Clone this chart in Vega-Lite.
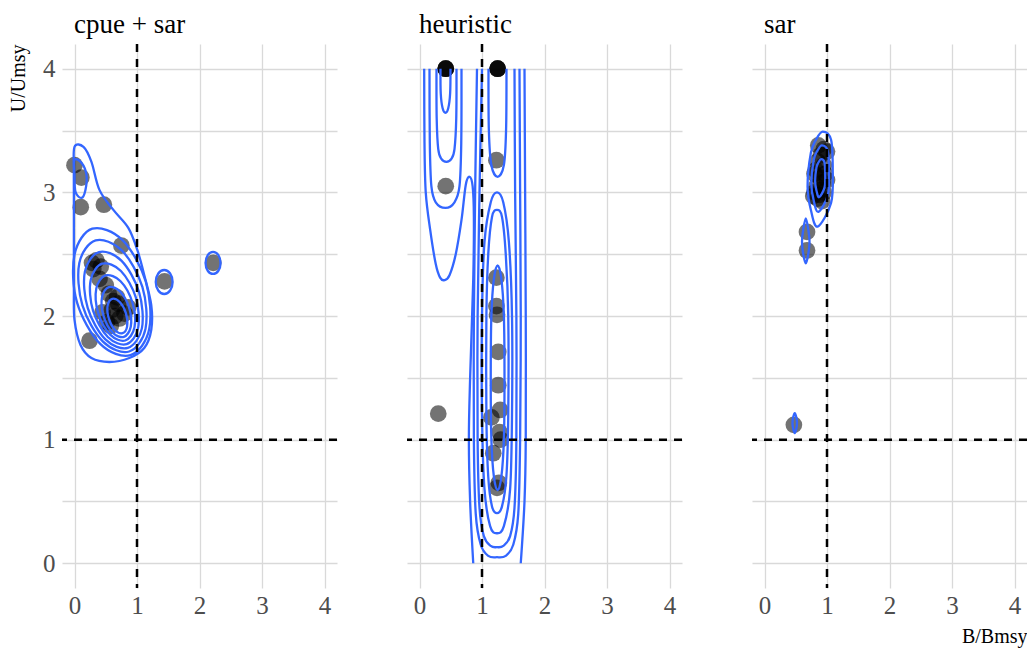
{
  "$schema": "https://vega.github.io/schema/vega-lite/v6.json",
  "background": "white",
  "padding": {"left": 8, "top": 10, "right": 2, "bottom": 5},
  "bounds": "flush",
  "spacing": 70,
  "config": {
    "view": {"stroke": null},
    "axis": {"gridColor": "#d9d9d9", "gridWidth": 1.3, "domain": false, "ticks": false, "labelFont": "Liberation Serif", "labelFontSize": 25, "labelColor": "#4d4d4d", "titleFont": "Liberation Serif", "titleFontSize": 20, "titleFontWeight": "normal", "titleColor": "black"},
    "title": {"font": "Liberation Serif", "fontSize": 27, "fontWeight": "normal", "color": "black"}
  },
  "datasets": {
    "pts": [
      {"p": "cpue + sar", "x": 0.0, "y": 3.22}, {"p": "cpue + sar", "x": 0.11, "y": 3.12}, {"p": "cpue + sar", "x": 0.10, "y": 2.88},
      {"p": "cpue + sar", "x": 0.47, "y": 2.90}, {"p": "cpue + sar", "x": 0.75, "y": 2.57}, {"p": "cpue + sar", "x": 0.28, "y": 2.43},
      {"p": "cpue + sar", "x": 0.35, "y": 2.45}, {"p": "cpue + sar", "x": 0.42, "y": 2.40}, {"p": "cpue + sar", "x": 0.40, "y": 2.30},
      {"p": "cpue + sar", "x": 0.55, "y": 2.18}, {"p": "cpue + sar", "x": 0.62, "y": 2.12}, {"p": "cpue + sar", "x": 0.70, "y": 2.10},
      {"p": "cpue + sar", "x": 0.65, "y": 2.00}, {"p": "cpue + sar", "x": 0.80, "y": 2.02}, {"p": "cpue + sar", "x": 0.45, "y": 2.03},
      {"p": "cpue + sar", "x": 0.58, "y": 1.92}, {"p": "cpue + sar", "x": 0.24, "y": 1.80}, {"p": "cpue + sar", "x": 1.44, "y": 2.28},
      {"p": "cpue + sar", "x": 2.22, "y": 2.43},
      {"p": "cpue + sar", "x": 0.30, "y": 2.38}, {"p": "cpue + sar", "x": 0.50, "y": 2.25}, {"p": "cpue + sar", "x": 0.60, "y": 2.05},
      {"p": "cpue + sar", "x": 0.72, "y": 1.98}, {"p": "cpue + sar", "x": 0.52, "y": 1.95}, {"p": "cpue + sar", "x": 0.68, "y": 2.15},
      {"p": "cpue + sar", "x": 0.86, "y": 2.07},
      {"p": "heuristic", "x": 0.42, "y": 4.0}, {"p": "heuristic", "x": 0.42, "y": 4.0}, {"p": "heuristic", "x": 0.42, "y": 4.0}, {"p": "heuristic", "x": 0.42, "y": 4.0},
      {"p": "heuristic", "x": 1.25, "y": 4.0}, {"p": "heuristic", "x": 1.25, "y": 4.0}, {"p": "heuristic", "x": 1.25, "y": 4.0}, {"p": "heuristic", "x": 1.25, "y": 4.0},
      {"p": "heuristic", "x": 0.42, "y": 3.05}, {"p": "heuristic", "x": 1.23, "y": 3.26}, {"p": "heuristic", "x": 0.30, "y": 1.21},
      {"p": "heuristic", "x": 1.23, "y": 2.31}, {"p": "heuristic", "x": 1.23, "y": 2.08}, {"p": "heuristic", "x": 1.24, "y": 2.01},
      {"p": "heuristic", "x": 1.26, "y": 1.71}, {"p": "heuristic", "x": 1.26, "y": 1.44}, {"p": "heuristic", "x": 1.29, "y": 1.24},
      {"p": "heuristic", "x": 1.15, "y": 1.18}, {"p": "heuristic", "x": 1.28, "y": 1.06}, {"p": "heuristic", "x": 1.30, "y": 1.00},
      {"p": "heuristic", "x": 1.18, "y": 0.89}, {"p": "heuristic", "x": 1.27, "y": 0.65}, {"p": "heuristic", "x": 1.24, "y": 0.61},
      {"p": "sar", "x": 0.95, "y": 3.35}, {"p": "sar", "x": 1.0, "y": 3.33}, {"p": "sar", "x": 0.90, "y": 3.30}, {"p": "sar", "x": 0.85, "y": 3.25},
      {"p": "sar", "x": 0.95, "y": 3.22}, {"p": "sar", "x": 0.80, "y": 3.15}, {"p": "sar", "x": 0.88, "y": 3.12}, {"p": "sar", "x": 0.97, "y": 3.15},
      {"p": "sar", "x": 1.0, "y": 3.10}, {"p": "sar", "x": 0.83, "y": 3.05}, {"p": "sar", "x": 0.90, "y": 3.02}, {"p": "sar", "x": 0.95, "y": 3.00},
      {"p": "sar", "x": 0.78, "y": 2.97}, {"p": "sar", "x": 0.85, "y": 2.95}, {"p": "sar", "x": 0.92, "y": 2.93}, {"p": "sar", "x": 0.88, "y": 2.98},
      {"p": "sar", "x": 0.82, "y": 3.18}, {"p": "sar", "x": 0.93, "y": 3.08}, {"p": "sar", "x": 0.86, "y": 3.38}, {"p": "sar", "x": 0.80, "y": 3.00},
      {"p": "sar", "x": 0.68, "y": 2.68}, {"p": "sar", "x": 0.68, "y": 2.53}, {"p": "sar", "x": 0.47, "y": 1.12}
    ],
    "loops": [
      {"p": "cpue + sar", "g": "o", "i": 0, "x": 0.0, "y": 3.368}, {"p": "cpue + sar", "g": "o", "i": 1, "x": 0.144, "y": 3.368},
      {"p": "cpue + sar", "g": "o", "i": 2, "x": 0.271, "y": 3.247}, {"p": "cpue + sar", "g": "o", "i": 3, "x": 0.399, "y": 3.020},
      {"p": "cpue + sar", "g": "o", "i": 4, "x": 0.622, "y": 2.858}, {"p": "cpue + sar", "g": "o", "i": 5, "x": 0.861, "y": 2.713},
      {"p": "cpue + sar", "g": "o", "i": 6, "x": 1.005, "y": 2.534}, {"p": "cpue + sar", "g": "o", "i": 7, "x": 1.116, "y": 2.332},
      {"p": "cpue + sar", "g": "o", "i": 8, "x": 1.228, "y": 2.089}, {"p": "cpue + sar", "g": "o", "i": 9, "x": 1.228, "y": 1.887},
      {"p": "cpue + sar", "g": "o", "i": 10, "x": 1.116, "y": 1.741}, {"p": "cpue + sar", "g": "o", "i": 11, "x": 0.877, "y": 1.660},
      {"p": "cpue + sar", "g": "o", "i": 12, "x": 0.558, "y": 1.628}, {"p": "cpue + sar", "g": "o", "i": 13, "x": 0.271, "y": 1.660},
      {"p": "cpue + sar", "g": "o", "i": 14, "x": 0.096, "y": 1.765}, {"p": "cpue + sar", "g": "o", "i": 15, "x": 0.0, "y": 1.968},
      {"p": "cpue + sar", "g": "o", "i": 16, "x": -0.01, "y": 2.211}, {"p": "cpue + sar", "g": "o", "i": 17, "x": -0.01, "y": 2.453},
      {"p": "cpue + sar", "g": "o", "i": 18, "x": -0.01, "y": 2.696}, {"p": "cpue + sar", "g": "o", "i": 19, "x": -0.01, "y": 2.939},
      {"p": "cpue + sar", "g": "o", "i": 20, "x": -0.01, "y": 3.182},
      {"p": "cpue + sar", "g": "t", "i": 0, "x": 0.0, "y": 3.263}, {"p": "cpue + sar", "g": "t", "i": 1, "x": 0.112, "y": 3.239},
      {"p": "cpue + sar", "g": "t", "i": 2, "x": 0.191, "y": 3.142}, {"p": "cpue + sar", "g": "t", "i": 3, "x": 0.175, "y": 3.020},
      {"p": "cpue + sar", "g": "t", "i": 4, "x": 0.112, "y": 2.955}, {"p": "cpue + sar", "g": "t", "i": 5, "x": 0.016, "y": 3.004},
      {"p": "cpue + sar", "g": "t", "i": 6, "x": 0.0, "y": 3.142},
      {"p": "cpue + sar", "g": "k0", "i": 0, "x": 0.895, "y": 1.683}, {"p": "cpue + sar", "g": "k0", "i": 1, "x": 1.195, "y": 1.892},
      {"p": "cpue + sar", "g": "k0", "i": 2, "x": 1.140, "y": 2.279}, {"p": "cpue + sar", "g": "k0", "i": 3, "x": 0.764, "y": 2.616},
      {"p": "cpue + sar", "g": "k0", "i": 4, "x": 0.285, "y": 2.706}, {"p": "cpue + sar", "g": "k0", "i": 5, "x": 0.0, "y": 2.496},
      {"p": "cpue + sar", "g": "k0", "i": 6, "x": 0.040, "y": 2.110}, {"p": "cpue + sar", "g": "k0", "i": 7, "x": 0.416, "y": 1.772},
      {"p": "cpue + sar", "g": "k1", "i": 0, "x": 0.874, "y": 1.713}, {"p": "cpue + sar", "g": "k1", "i": 1, "x": 1.136, "y": 1.896},
      {"p": "cpue + sar", "g": "k1", "i": 2, "x": 1.086, "y": 2.236}, {"p": "cpue + sar", "g": "k1", "i": 3, "x": 0.756, "y": 2.531},
      {"p": "cpue + sar", "g": "k1", "i": 4, "x": 0.338, "y": 2.611}, {"p": "cpue + sar", "g": "k1", "i": 5, "x": 0.077, "y": 2.428},
      {"p": "cpue + sar", "g": "k1", "i": 6, "x": 0.126, "y": 2.088}, {"p": "cpue + sar", "g": "k1", "i": 7, "x": 0.456, "y": 1.793},
      {"p": "cpue + sar", "g": "k2", "i": 0, "x": 0.853, "y": 1.742}, {"p": "cpue + sar", "g": "k2", "i": 1, "x": 1.078, "y": 1.900},
      {"p": "cpue + sar", "g": "k2", "i": 2, "x": 1.033, "y": 2.193}, {"p": "cpue + sar", "g": "k2", "i": 3, "x": 0.750, "y": 2.448},
      {"p": "cpue + sar", "g": "k2", "i": 4, "x": 0.391, "y": 2.517}, {"p": "cpue + sar", "g": "k2", "i": 5, "x": 0.166, "y": 2.359},
      {"p": "cpue + sar", "g": "k2", "i": 6, "x": 0.211, "y": 2.066}, {"p": "cpue + sar", "g": "k2", "i": 7, "x": 0.494, "y": 1.811},
      {"p": "cpue + sar", "g": "k3", "i": 0, "x": 0.833, "y": 1.772}, {"p": "cpue + sar", "g": "k3", "i": 1, "x": 1.018, "y": 1.904},
      {"p": "cpue + sar", "g": "k3", "i": 2, "x": 0.981, "y": 2.150}, {"p": "cpue + sar", "g": "k3", "i": 3, "x": 0.743, "y": 2.364},
      {"p": "cpue + sar", "g": "k3", "i": 4, "x": 0.443, "y": 2.423}, {"p": "cpue + sar", "g": "k3", "i": 5, "x": 0.258, "y": 2.290},
      {"p": "cpue + sar", "g": "k3", "i": 6, "x": 0.295, "y": 2.045}, {"p": "cpue + sar", "g": "k3", "i": 7, "x": 0.533, "y": 1.830},
      {"p": "cpue + sar", "g": "k4", "i": 0, "x": 0.812, "y": 1.802}, {"p": "cpue + sar", "g": "k4", "i": 1, "x": 0.960, "y": 1.909},
      {"p": "cpue + sar", "g": "k4", "i": 2, "x": 0.928, "y": 2.107}, {"p": "cpue + sar", "g": "k4", "i": 3, "x": 0.737, "y": 2.281},
      {"p": "cpue + sar", "g": "k4", "i": 4, "x": 0.496, "y": 2.328}, {"p": "cpue + sar", "g": "k4", "i": 5, "x": 0.348, "y": 2.221},
      {"p": "cpue + sar", "g": "k4", "i": 6, "x": 0.380, "y": 2.023}, {"p": "cpue + sar", "g": "k4", "i": 7, "x": 0.571, "y": 1.849},
      {"p": "cpue + sar", "g": "k5", "i": 0, "x": 0.789, "y": 1.831}, {"p": "cpue + sar", "g": "k5", "i": 1, "x": 0.900, "y": 1.913},
      {"p": "cpue + sar", "g": "k5", "i": 2, "x": 0.876, "y": 2.064}, {"p": "cpue + sar", "g": "k5", "i": 3, "x": 0.730, "y": 2.198},
      {"p": "cpue + sar", "g": "k5", "i": 4, "x": 0.550, "y": 2.234}, {"p": "cpue + sar", "g": "k5", "i": 5, "x": 0.440, "y": 2.152},
      {"p": "cpue + sar", "g": "k5", "i": 6, "x": 0.464, "y": 2.001}, {"p": "cpue + sar", "g": "k5", "i": 7, "x": 0.609, "y": 1.867},
      {"p": "cpue + sar", "g": "k6", "i": 0, "x": 0.769, "y": 1.861}, {"p": "cpue + sar", "g": "k6", "i": 1, "x": 0.842, "y": 1.916},
      {"p": "cpue + sar", "g": "k6", "i": 2, "x": 0.823, "y": 2.021}, {"p": "cpue + sar", "g": "k6", "i": 3, "x": 0.724, "y": 2.113},
      {"p": "cpue + sar", "g": "k6", "i": 4, "x": 0.603, "y": 2.139}, {"p": "cpue + sar", "g": "k6", "i": 5, "x": 0.530, "y": 2.084},
      {"p": "cpue + sar", "g": "k6", "i": 6, "x": 0.549, "y": 1.979}, {"p": "cpue + sar", "g": "k6", "i": 7, "x": 0.648, "y": 1.887},
      {"p": "cpue + sar", "g": "e1", "i": 0, "x": 1.57, "y": 2.275}, {"p": "cpue + sar", "g": "e1", "i": 1, "x": 1.53, "y": 2.344},
      {"p": "cpue + sar", "g": "e1", "i": 2, "x": 1.435, "y": 2.372}, {"p": "cpue + sar", "g": "e1", "i": 3, "x": 1.34, "y": 2.344},
      {"p": "cpue + sar", "g": "e1", "i": 4, "x": 1.30, "y": 2.275}, {"p": "cpue + sar", "g": "e1", "i": 5, "x": 1.34, "y": 2.206},
      {"p": "cpue + sar", "g": "e1", "i": 6, "x": 1.435, "y": 2.178}, {"p": "cpue + sar", "g": "e1", "i": 7, "x": 1.53, "y": 2.206},
      {"p": "cpue + sar", "g": "e2", "i": 0, "x": 2.337, "y": 2.429}, {"p": "cpue + sar", "g": "e2", "i": 1, "x": 2.302, "y": 2.492},
      {"p": "cpue + sar", "g": "e2", "i": 2, "x": 2.217, "y": 2.518}, {"p": "cpue + sar", "g": "e2", "i": 3, "x": 2.132, "y": 2.492},
      {"p": "cpue + sar", "g": "e2", "i": 4, "x": 2.097, "y": 2.429}, {"p": "cpue + sar", "g": "e2", "i": 5, "x": 2.132, "y": 2.366},
      {"p": "cpue + sar", "g": "e2", "i": 6, "x": 2.217, "y": 2.340}, {"p": "cpue + sar", "g": "e2", "i": 7, "x": 2.302, "y": 2.366},
      {"p": "heuristic", "g": "c2", "i": 0, "x": 1.24, "y": 3.00}, {"p": "heuristic", "g": "c2", "i": 1, "x": 1.34, "y": 2.92},
      {"p": "heuristic", "g": "c2", "i": 2, "x": 1.43, "y": 2.6}, {"p": "heuristic", "g": "c2", "i": 3, "x": 1.48, "y": 2.0},
      {"p": "heuristic", "g": "c2", "i": 4, "x": 1.48, "y": 1.2}, {"p": "heuristic", "g": "c2", "i": 5, "x": 1.45, "y": 0.6},
      {"p": "heuristic", "g": "c2", "i": 6, "x": 1.35, "y": 0.30}, {"p": "heuristic", "g": "c2", "i": 7, "x": 1.24, "y": 0.243},
      {"p": "heuristic", "g": "c2", "i": 8, "x": 1.13, "y": 0.30}, {"p": "heuristic", "g": "c2", "i": 9, "x": 1.04, "y": 0.6},
      {"p": "heuristic", "g": "c2", "i": 10, "x": 1.0, "y": 1.2}, {"p": "heuristic", "g": "c2", "i": 11, "x": 1.0, "y": 2.0},
      {"p": "heuristic", "g": "c2", "i": 12, "x": 1.04, "y": 2.6}, {"p": "heuristic", "g": "c2", "i": 13, "x": 1.14, "y": 2.92},
      {"p": "heuristic", "g": "c1", "i": 0, "x": 1.24, "y": 2.858}, {"p": "heuristic", "g": "c1", "i": 1, "x": 1.32, "y": 2.80},
      {"p": "heuristic", "g": "c1", "i": 2, "x": 1.38, "y": 2.5}, {"p": "heuristic", "g": "c1", "i": 3, "x": 1.42, "y": 2.0},
      {"p": "heuristic", "g": "c1", "i": 4, "x": 1.42, "y": 1.2}, {"p": "heuristic", "g": "c1", "i": 5, "x": 1.39, "y": 0.7},
      {"p": "heuristic", "g": "c1", "i": 6, "x": 1.32, "y": 0.46}, {"p": "heuristic", "g": "c1", "i": 7, "x": 1.24, "y": 0.405},
      {"p": "heuristic", "g": "c1", "i": 8, "x": 1.16, "y": 0.46}, {"p": "heuristic", "g": "c1", "i": 9, "x": 1.10, "y": 0.7},
      {"p": "heuristic", "g": "c1", "i": 10, "x": 1.07, "y": 1.2}, {"p": "heuristic", "g": "c1", "i": 11, "x": 1.07, "y": 2.0},
      {"p": "heuristic", "g": "c1", "i": 12, "x": 1.10, "y": 2.5}, {"p": "heuristic", "g": "c1", "i": 13, "x": 1.16, "y": 2.80},
      {"p": "heuristic", "g": "c0", "i": 0, "x": 1.25, "y": 2.41}, {"p": "heuristic", "g": "c0", "i": 1, "x": 1.31, "y": 2.30},
      {"p": "heuristic", "g": "c0", "i": 2, "x": 1.35, "y": 2.0}, {"p": "heuristic", "g": "c0", "i": 3, "x": 1.36, "y": 1.5},
      {"p": "heuristic", "g": "c0", "i": 4, "x": 1.35, "y": 1.0}, {"p": "heuristic", "g": "c0", "i": 5, "x": 1.31, "y": 0.7},
      {"p": "heuristic", "g": "c0", "i": 6, "x": 1.25, "y": 0.59}, {"p": "heuristic", "g": "c0", "i": 7, "x": 1.19, "y": 0.7},
      {"p": "heuristic", "g": "c0", "i": 8, "x": 1.15, "y": 1.0}, {"p": "heuristic", "g": "c0", "i": 9, "x": 1.14, "y": 1.5},
      {"p": "heuristic", "g": "c0", "i": 10, "x": 1.15, "y": 2.0}, {"p": "heuristic", "g": "c0", "i": 11, "x": 1.19, "y": 2.30},
      {"p": "sar", "g": "s1", "i": 0, "x": 0.931, "y": 3.492}, {"p": "sar", "g": "s1", "i": 1, "x": 1.065, "y": 3.425},
      {"p": "sar", "g": "s1", "i": 2, "x": 1.092, "y": 3.166}, {"p": "sar", "g": "s1", "i": 3, "x": 1.065, "y": 2.915},
      {"p": "sar", "g": "s1", "i": 4, "x": 0.85, "y": 2.723}, {"p": "sar", "g": "s1", "i": 5, "x": 0.742, "y": 2.858},
      {"p": "sar", "g": "s1", "i": 6, "x": 0.689, "y": 3.047}, {"p": "sar", "g": "s1", "i": 7, "x": 0.742, "y": 3.32},
      {"p": "sar", "g": "s1", "i": 8, "x": 0.823, "y": 3.425},
      {"p": "sar", "g": "s1b", "i": 0, "x": 0.919, "y": 3.380}, {"p": "sar", "g": "s1b", "i": 1, "x": 1.013, "y": 3.334},
      {"p": "sar", "g": "s1b", "i": 2, "x": 1.031, "y": 3.152}, {"p": "sar", "g": "s1b", "i": 3, "x": 1.013, "y": 2.977},
      {"p": "sar", "g": "s1b", "i": 4, "x": 0.862, "y": 2.842}, {"p": "sar", "g": "s1b", "i": 5, "x": 0.786, "y": 2.937},
      {"p": "sar", "g": "s1b", "i": 6, "x": 0.749, "y": 3.069}, {"p": "sar", "g": "s1b", "i": 7, "x": 0.786, "y": 3.260},
      {"p": "sar", "g": "s1b", "i": 8, "x": 0.843, "y": 3.334},
      {"p": "sar", "g": "s1c", "i": 0, "x": 0.906, "y": 3.269}, {"p": "sar", "g": "s1c", "i": 1, "x": 0.960, "y": 3.242},
      {"p": "sar", "g": "s1c", "i": 2, "x": 0.971, "y": 3.138}, {"p": "sar", "g": "s1c", "i": 3, "x": 0.960, "y": 3.038},
      {"p": "sar", "g": "s1c", "i": 4, "x": 0.874, "y": 2.961}, {"p": "sar", "g": "s1c", "i": 5, "x": 0.831, "y": 3.015},
      {"p": "sar", "g": "s1c", "i": 6, "x": 0.810, "y": 3.091}, {"p": "sar", "g": "s1c", "i": 7, "x": 0.831, "y": 3.200},
      {"p": "sar", "g": "s1c", "i": 8, "x": 0.863, "y": 3.242},
      {"p": "sar", "g": "s2", "i": 0, "x": 0.661, "y": 2.79}, {"p": "sar", "g": "s2", "i": 1, "x": 0.70, "y": 2.70},
      {"p": "sar", "g": "s2", "i": 2, "x": 0.72, "y": 2.60}, {"p": "sar", "g": "s2", "i": 3, "x": 0.70, "y": 2.50},
      {"p": "sar", "g": "s2", "i": 4, "x": 0.661, "y": 2.426}, {"p": "sar", "g": "s2", "i": 5, "x": 0.62, "y": 2.50},
      {"p": "sar", "g": "s2", "i": 6, "x": 0.60, "y": 2.60}, {"p": "sar", "g": "s2", "i": 7, "x": 0.62, "y": 2.70},
      {"p": "sar", "g": "s3", "i": 0, "x": 0.484, "y": 1.215}, {"p": "sar", "g": "s3", "i": 1, "x": 0.51, "y": 1.18},
      {"p": "sar", "g": "s3", "i": 2, "x": 0.52, "y": 1.134}, {"p": "sar", "g": "s3", "i": 3, "x": 0.51, "y": 1.09},
      {"p": "sar", "g": "s3", "i": 4, "x": 0.484, "y": 1.053}, {"p": "sar", "g": "s3", "i": 5, "x": 0.458, "y": 1.09},
      {"p": "sar", "g": "s3", "i": 6, "x": 0.448, "y": 1.134}, {"p": "sar", "g": "s3", "i": 7, "x": 0.458, "y": 1.18}
    ],
    "curves": [
      {"p": "heuristic", "g": "l1", "i": 0, "x": 0.336, "y": 4.0}, {"p": "heuristic", "g": "l1", "i": 1, "x": 0.34, "y": 3.80},
      {"p": "heuristic", "g": "l1", "i": 2, "x": 0.37, "y": 3.68}, {"p": "heuristic", "g": "l1", "i": 3, "x": 0.416, "y": 3.644},
      {"p": "heuristic", "g": "l1", "i": 4, "x": 0.46, "y": 3.68}, {"p": "heuristic", "g": "l1", "i": 5, "x": 0.49, "y": 3.80},
      {"p": "heuristic", "g": "l1", "i": 6, "x": 0.496, "y": 4.0},
      {"p": "heuristic", "g": "l2", "i": 0, "x": 0.272, "y": 4.0}, {"p": "heuristic", "g": "l2", "i": 1, "x": 0.275, "y": 3.6},
      {"p": "heuristic", "g": "l2", "i": 2, "x": 0.30, "y": 3.35}, {"p": "heuristic", "g": "l2", "i": 3, "x": 0.35, "y": 3.27},
      {"p": "heuristic", "g": "l2", "i": 4, "x": 0.43, "y": 3.247}, {"p": "heuristic", "g": "l2", "i": 5, "x": 0.51, "y": 3.27},
      {"p": "heuristic", "g": "l2", "i": 6, "x": 0.56, "y": 3.35}, {"p": "heuristic", "g": "l2", "i": 7, "x": 0.588, "y": 3.6},
      {"p": "heuristic", "g": "l2", "i": 8, "x": 0.592, "y": 4.0},
      {"p": "heuristic", "g": "l3", "i": 0, "x": 0.16, "y": 4.0}, {"p": "heuristic", "g": "l3", "i": 1, "x": 0.165, "y": 3.4},
      {"p": "heuristic", "g": "l3", "i": 2, "x": 0.19, "y": 3.05}, {"p": "heuristic", "g": "l3", "i": 3, "x": 0.26, "y": 2.92},
      {"p": "heuristic", "g": "l3", "i": 4, "x": 0.416, "y": 2.874}, {"p": "heuristic", "g": "l3", "i": 5, "x": 0.56, "y": 2.92},
      {"p": "heuristic", "g": "l3", "i": 6, "x": 0.64, "y": 3.05}, {"p": "heuristic", "g": "l3", "i": 7, "x": 0.668, "y": 3.4},
      {"p": "heuristic", "g": "l3", "i": 8, "x": 0.672, "y": 4.0},
      {"p": "heuristic", "g": "wl", "i": 0, "x": 0.075, "y": 4.0}, {"p": "heuristic", "g": "wl", "i": 1, "x": 0.08, "y": 3.4},
      {"p": "heuristic", "g": "wl", "i": 2, "x": 0.10, "y": 3.0}, {"p": "heuristic", "g": "wl", "i": 3, "x": 0.17, "y": 2.70},
      {"p": "heuristic", "g": "wl", "i": 4, "x": 0.26, "y": 2.42}, {"p": "heuristic", "g": "wl", "i": 5, "x": 0.33, "y": 2.31},
      {"p": "heuristic", "g": "wl", "i": 6, "x": 0.40, "y": 2.29}, {"p": "heuristic", "g": "wl", "i": 7, "x": 0.48, "y": 2.33},
      {"p": "heuristic", "g": "wl", "i": 8, "x": 0.58, "y": 2.5}, {"p": "heuristic", "g": "wl", "i": 9, "x": 0.672, "y": 2.777},
      {"p": "heuristic", "g": "wl", "i": 10, "x": 0.74, "y": 3.06}, {"p": "heuristic", "g": "wl", "i": 11, "x": 0.80, "y": 3.126},
      {"p": "heuristic", "g": "wl", "i": 12, "x": 0.85, "y": 3.05}, {"p": "heuristic", "g": "wl", "i": 13, "x": 0.87, "y": 2.80},
      {"p": "heuristic", "g": "wl", "i": 14, "x": 0.86, "y": 2.3}, {"p": "heuristic", "g": "wl", "i": 15, "x": 0.81, "y": 1.5},
      {"p": "heuristic", "g": "wl", "i": 16, "x": 0.79, "y": 1.0}, {"p": "heuristic", "g": "wl", "i": 17, "x": 0.81, "y": 0.5},
      {"p": "heuristic", "g": "wl", "i": 18, "x": 0.86, "y": 0.0},
      {"p": "heuristic", "g": "wr", "i": 0, "x": 1.68, "y": 4.0}, {"p": "heuristic", "g": "wr", "i": 1, "x": 1.69, "y": 3.0},
      {"p": "heuristic", "g": "wr", "i": 2, "x": 1.70, "y": 2.0}, {"p": "heuristic", "g": "wr", "i": 3, "x": 1.70, "y": 1.0},
      {"p": "heuristic", "g": "wr", "i": 4, "x": 1.68, "y": 0.5}, {"p": "heuristic", "g": "wr", "i": 5, "x": 1.62, "y": 0.0},
      {"p": "heuristic", "g": "u3", "i": 0, "x": 0.92, "y": 4.0}, {"p": "heuristic", "g": "u3", "i": 1, "x": 0.89, "y": 3.0},
      {"p": "heuristic", "g": "u3", "i": 2, "x": 0.87, "y": 2.0}, {"p": "heuristic", "g": "u3", "i": 3, "x": 0.87, "y": 1.0},
      {"p": "heuristic", "g": "u3", "i": 4, "x": 0.90, "y": 0.4}, {"p": "heuristic", "g": "u3", "i": 5, "x": 0.98, "y": 0.15},
      {"p": "heuristic", "g": "u3", "i": 6, "x": 1.10, "y": 0.06}, {"p": "heuristic", "g": "u3", "i": 7, "x": 1.24, "y": 0.049},
      {"p": "heuristic", "g": "u3", "i": 8, "x": 1.38, "y": 0.06}, {"p": "heuristic", "g": "u3", "i": 9, "x": 1.50, "y": 0.15},
      {"p": "heuristic", "g": "u3", "i": 10, "x": 1.58, "y": 0.4}, {"p": "heuristic", "g": "u3", "i": 11, "x": 1.61, "y": 1.0},
      {"p": "heuristic", "g": "u3", "i": 12, "x": 1.62, "y": 2.0}, {"p": "heuristic", "g": "u3", "i": 13, "x": 1.61, "y": 3.0},
      {"p": "heuristic", "g": "u3", "i": 14, "x": 1.60, "y": 4.0},
      {"p": "heuristic", "g": "u2", "i": 0, "x": 1.0, "y": 4.0}, {"p": "heuristic", "g": "u2", "i": 1, "x": 0.96, "y": 3.0},
      {"p": "heuristic", "g": "u2", "i": 2, "x": 0.93, "y": 2.0}, {"p": "heuristic", "g": "u2", "i": 3, "x": 0.93, "y": 1.0},
      {"p": "heuristic", "g": "u2", "i": 4, "x": 0.96, "y": 0.45}, {"p": "heuristic", "g": "u2", "i": 5, "x": 1.03, "y": 0.22},
      {"p": "heuristic", "g": "u2", "i": 6, "x": 1.14, "y": 0.14}, {"p": "heuristic", "g": "u2", "i": 7, "x": 1.24, "y": 0.13},
      {"p": "heuristic", "g": "u2", "i": 8, "x": 1.34, "y": 0.14}, {"p": "heuristic", "g": "u2", "i": 9, "x": 1.45, "y": 0.22},
      {"p": "heuristic", "g": "u2", "i": 10, "x": 1.52, "y": 0.45}, {"p": "heuristic", "g": "u2", "i": 11, "x": 1.55, "y": 1.0},
      {"p": "heuristic", "g": "u2", "i": 12, "x": 1.55, "y": 2.0}, {"p": "heuristic", "g": "u2", "i": 13, "x": 1.53, "y": 3.0},
      {"p": "heuristic", "g": "u2", "i": 14, "x": 1.52, "y": 4.0},
      {"p": "heuristic", "g": "u1", "i": 0, "x": 1.104, "y": 4.0}, {"p": "heuristic", "g": "u1", "i": 1, "x": 1.11, "y": 3.5},
      {"p": "heuristic", "g": "u1", "i": 2, "x": 1.15, "y": 3.22}, {"p": "heuristic", "g": "u1", "i": 3, "x": 1.25, "y": 3.126},
      {"p": "heuristic", "g": "u1", "i": 4, "x": 1.35, "y": 3.22}, {"p": "heuristic", "g": "u1", "i": 5, "x": 1.385, "y": 3.5},
      {"p": "heuristic", "g": "u1", "i": 6, "x": 1.392, "y": 4.0}
    ]
  },
  "hconcat": [
    {
      "width": 275, "height": 544,
      "title": {"text": "cpue + sar", "anchor": "start", "frame": "group", "dx": 12, "offset": 4},
      "layer": [
        {"data": {"name": "pts"}, "transform": [{"filter": "datum.p === 'cpue + sar'"}],
         "mark": {"type": "circle", "size": 280, "color": "black", "opacity": 0.55},
         "encoding": {
           "x": {"field": "x", "type": "quantitative", "scale": {"domain": [-0.2, 4.2], "nice": false, "zero": false},
                 "axis": {"values": [0, 0.5, 1, 1.5, 2, 2.5, 3, 3.5, 4], "labelExpr": "datum.value % 1 === 0 ? format(datum.value, 'd') : ''", "title": null, "labelOverlap": false, "labelPadding": 5}},
           "y": {"field": "y", "type": "quantitative", "scale": {"domain": [-0.2, 4.2], "nice": false, "zero": false},
                 "axis": {"values": [0, 0.5, 1, 1.5, 2, 2.5, 3, 3.5, 4], "labelExpr": "datum.value % 1 === 0 ? format(datum.value, 'd') : ''", "title": "U/Umsy", "titleAnchor": "end", "titlePadding": 14, "labelPadding": 7, "labelOverlap": false}}
         }},
        {"data": {"name": "loops"}, "transform": [{"filter": "datum.p === 'cpue + sar'"}],
         "mark": {"type": "line", "interpolate": "cardinal-closed", "color": "#3366FF", "strokeWidth": 2.3},
         "encoding": {"x": {"field": "x", "type": "quantitative"}, "y": {"field": "y", "type": "quantitative"}, "detail": {"field": "g"}, "order": {"field": "i"}}},
        {"data": {"values": [{}]}, "mark": {"type": "rule", "color": "black", "strokeWidth": 2.5, "strokeDash": [8, 7]}, "encoding": {"x": {"datum": 1}}},
        {"data": {"values": [{}]}, "mark": {"type": "rule", "color": "black", "strokeWidth": 2.5, "strokeDash": [8, 7]}, "encoding": {"y": {"datum": 1}}}
      ]
    },
    {
      "width": 275, "height": 544,
      "title": {"text": "heuristic", "anchor": "start", "frame": "group", "dx": 12, "offset": 4},
      "layer": [
        {"data": {"name": "pts"}, "transform": [{"filter": "datum.p === 'heuristic'"}],
         "mark": {"type": "circle", "size": 280, "color": "black", "opacity": 0.55},
         "encoding": {
           "x": {"field": "x", "type": "quantitative", "scale": {"domain": [-0.2, 4.2], "nice": false, "zero": false},
                 "axis": {"values": [0, 0.5, 1, 1.5, 2, 2.5, 3, 3.5, 4], "labelExpr": "datum.value % 1 === 0 ? format(datum.value, 'd') : ''", "title": null, "labelOverlap": false, "labelPadding": 5}},
           "y": {"field": "y", "type": "quantitative", "scale": {"domain": [-0.2, 4.2], "nice": false, "zero": false},
                 "axis": {"values": [0, 0.5, 1, 1.5, 2, 2.5, 3, 3.5, 4], "labels": false, "title": null}}
         }},
        {"data": {"name": "loops"}, "transform": [{"filter": "datum.p === 'heuristic'"}],
         "mark": {"type": "line", "interpolate": "cardinal-closed", "color": "#3366FF", "strokeWidth": 2.3},
         "encoding": {"x": {"field": "x", "type": "quantitative"}, "y": {"field": "y", "type": "quantitative"}, "detail": {"field": "g"}, "order": {"field": "i"}}},
        {"data": {"name": "curves"}, "transform": [{"filter": "datum.p === 'heuristic'"}],
         "mark": {"type": "line", "interpolate": "cardinal", "color": "#3366FF", "strokeWidth": 2.3},
         "encoding": {"x": {"field": "x", "type": "quantitative"}, "y": {"field": "y", "type": "quantitative"}, "detail": {"field": "g"}, "order": {"field": "i"}}},
        {"data": {"values": [{}]}, "mark": {"type": "rule", "color": "black", "strokeWidth": 2.5, "strokeDash": [8, 7]}, "encoding": {"x": {"datum": 1}}},
        {"data": {"values": [{}]}, "mark": {"type": "rule", "color": "black", "strokeWidth": 2.5, "strokeDash": [8, 7]}, "encoding": {"y": {"datum": 1}}}
      ]
    },
    {
      "width": 275, "height": 544,
      "title": {"text": "sar", "anchor": "start", "frame": "group", "dx": 12, "offset": 4},
      "layer": [
        {"data": {"name": "pts"}, "transform": [{"filter": "datum.p === 'sar'"}],
         "mark": {"type": "circle", "size": 280, "color": "black", "opacity": 0.55},
         "encoding": {
           "x": {"field": "x", "type": "quantitative", "scale": {"domain": [-0.2, 4.2], "nice": false, "zero": false},
                 "axis": {"values": [0, 0.5, 1, 1.5, 2, 2.5, 3, 3.5, 4], "labelExpr": "datum.value % 1 === 0 ? format(datum.value, 'd') : ''", "title": "B/Bmsy", "titleAnchor": "end", "titleFontSize": 20, "titlePadding": 8, "labelOverlap": false, "labelPadding": 5}},
           "y": {"field": "y", "type": "quantitative", "scale": {"domain": [-0.2, 4.2], "nice": false, "zero": false},
                 "axis": {"values": [0, 0.5, 1, 1.5, 2, 2.5, 3, 3.5, 4], "labels": false, "title": null}}
         }},
        {"data": {"name": "loops"}, "transform": [{"filter": "datum.p === 'sar'"}],
         "mark": {"type": "line", "interpolate": "cardinal-closed", "color": "#3366FF", "strokeWidth": 2.3},
         "encoding": {"x": {"field": "x", "type": "quantitative"}, "y": {"field": "y", "type": "quantitative"}, "detail": {"field": "g"}, "order": {"field": "i"}}},
        {"data": {"values": [{}]}, "mark": {"type": "rule", "color": "black", "strokeWidth": 2.5, "strokeDash": [8, 7]}, "encoding": {"x": {"datum": 1}}},
        {"data": {"values": [{}]}, "mark": {"type": "rule", "color": "black", "strokeWidth": 2.5, "strokeDash": [8, 7]}, "encoding": {"y": {"datum": 1}}}
      ]
    }
  ]
}
